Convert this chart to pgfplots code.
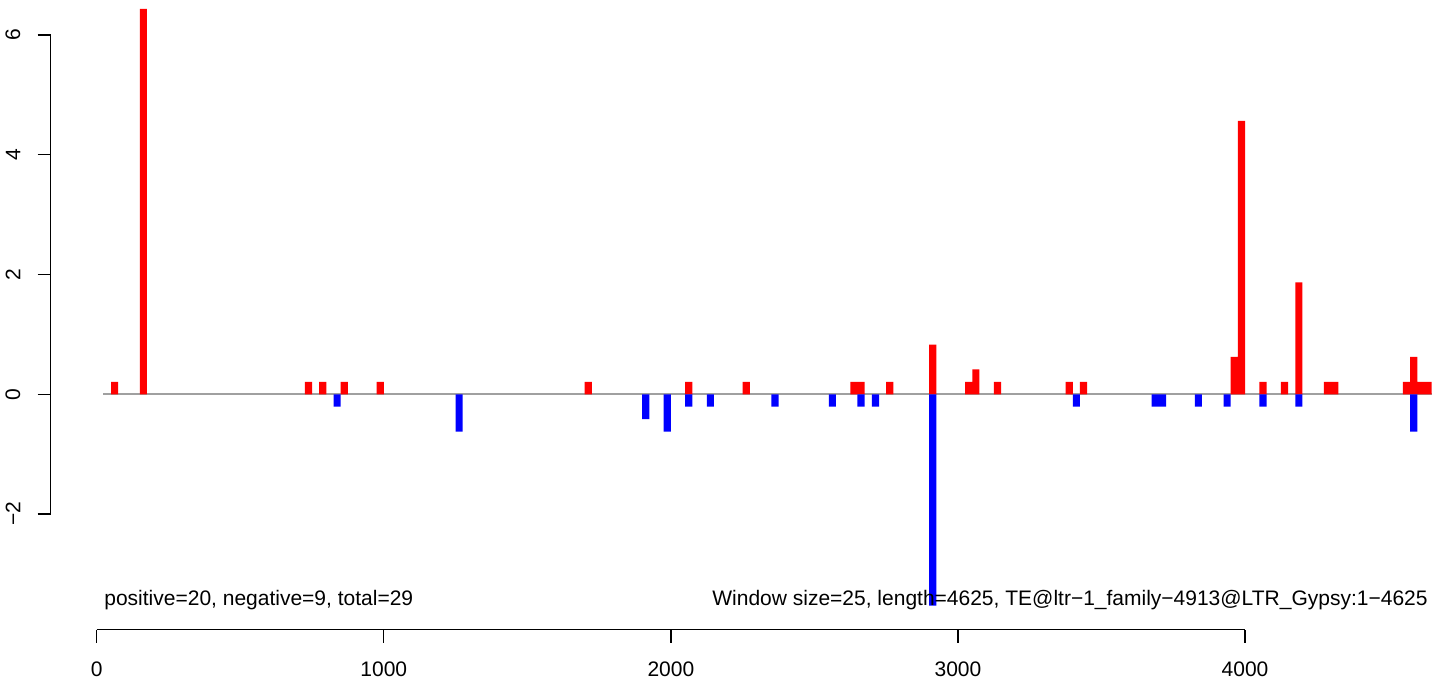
\documentclass[border=0pt]{standalone}
\usepackage{pgfplots}
\pgfplotsset{compat=1.18}
\usepackage{fontspec}
\setmainfont{Liberation Sans}
\definecolor{basegray}{RGB}{160,160,160}
\begin{document}
\begin{tikzpicture}[font=\fontsize{10.5}{12.6}\selectfont]
\begin{axis}[
  scale only axis,
  width=574.15pt, height=239.5pt,
  xmin=0, xmax=4000, ymin=-2, ymax=6,
  clip=false,
  axis x line=bottom, axis y line=left,
  axis line style={-, line width=0.7pt, black},
  axis x line shift=57.75pt,
  axis y line shift=23pt,
  xtick={0,1000,2000,3000,4000},
  xticklabels={0,1000,2000,3000,4000},
  ytick={-2,0,2,4,6},
  yticklabels={−2,0,2,4,6},
  tick align=outside,
  major tick length=6.5pt,
  tick style={black, line width=0.7pt},
  tick label style={font=\fontsize{10.5}{12.6}\selectfont},
  xticklabel shift=9.5pt,
  yticklabel shift=8.5pt,
  xticklabel style={anchor=north, inner sep=0pt},
  yticklabel style={rotate=90, anchor=south, inner sep=0pt},
]
\addplot[basegray, line width=1pt, forget plot] coordinates {(22,0) (4650,0)};
\addplot[ybar, bar width=25, bar shift=0pt, fill=red, draw=none] coordinates {
(62.5,0.208) (162.5,6.436) (737.5,0.208) (787.5,0.208) (862.5,0.208)
(987.5,0.208) (1712.5,0.208) (2062.5,0.208) (2262.5,0.208) (2637.5,0.208)
(2662.5,0.208) (2762.5,0.208) (2912.5,0.830) (3037.5,0.208) (3062.5,0.415)
(3137.5,0.208) (3387.5,0.208) (3437.5,0.208) (3962.5,0.623) (3987.5,4.567)
(4062.5,0.208) (4137.5,0.208) (4187.5,1.868) (4287.5,0.208) (4312.5,0.208)
(4562.5,0.208) (4587.5,0.623) (4612.5,0.208) (4637.5,0.208)
};
\addplot[ybar, bar width=25, bar shift=0pt, fill=blue, draw=none] coordinates {
(837.5,-0.208) (1262.5,-0.623) (1912.5,-0.415) (1987.5,-0.623) (2062.5,-0.208)
(2137.5,-0.208) (2362.5,-0.208) (2562.5,-0.208) (2662.5,-0.208) (2712.5,-0.208)
(2912.5,-3.529) (3412.5,-0.208) (3687.5,-0.208) (3712.5,-0.208) (3837.5,-0.208)
(3937.5,-0.208) (4062.5,-0.208) (4187.5,-0.208) (4587.5,-0.623)
};
\node[anchor=base west, inner sep=0pt] at (axis cs:25.4,-3.52) {positive=20, negative=9, total=29};
\node[anchor=base east, inner sep=0pt] at (axis cs:4637.4,-3.52) {Window size=25, length=4625, TE@ltr−1\_family−4913@LTR\_Gypsy:1−4625};
\coordinate (BL) at (axis cs:-336.8,-4.739);
\coordinate (TR) at (axis cs:4710.5,6.5846);
\end{axis}
\pgfresetboundingbox
\path[use as bounding box] (BL) rectangle (TR);
\end{tikzpicture}
\end{document}
